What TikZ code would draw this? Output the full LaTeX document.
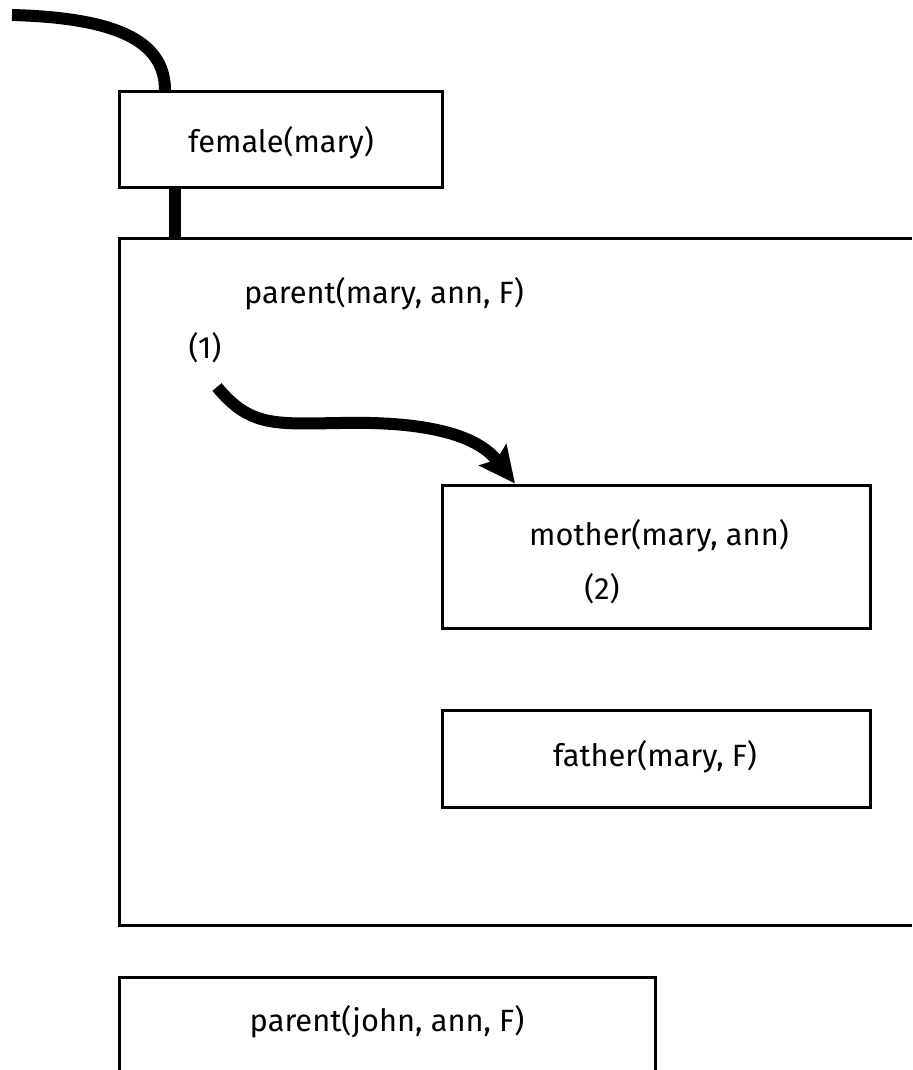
\documentclass[tikz,border=0pt]{standalone}
\usepackage{fontspec}
\setmainfont{Fira Sans}
\usepackage{tikz}
\usetikzlibrary{arrows.meta}

\begin{document}
\begin{tikzpicture}[x=0.5pt,y=-0.5pt,
		goalbox/.style={draw,line width=1.5pt,inner sep=0pt,minimum width=#1},
		lbl/.style={font=\fontsize{15.4}{18}\selectfont,inner sep=0pt},
		flow/.style={line width=6pt}]
			\useasboundingbox (0,0) rectangle (912,1070);
			% boxes
			\node [goalbox=161.5pt,minimum height=47.5pt] (female) at (280.5,139.5) {};
			\node [goalbox=214pt,minimum height=71.5pt] (mother) at (656,556.5) {};
			\node [goalbox=214pt,minimum height=48.5pt] (father) at (656,758.5) {};
			\coordinate (pm1) at (119,238);
			\coordinate (pm2) at (912,925);
			\draw [line width=1.5pt] (pm1 -| pm2) -- (pm1) -- (pm1 |- pm2) -- (pm2);
			\coordinate (pj1) at (119,977);
			\coordinate (pj2) at (655,1070);
			\draw [line width=1.5pt] (pj1 |- pj2) -- (pj1) -- (pj1 -| pj2) -- (pj2);
			% texts
			\node [lbl] (tfemale) at (281,143) {female(mary)};
			\node [lbl] (tparentm) at (384,294) {parent(mary, ann, F)};
			\node [lbl] (one) at (205,348) {(1)};
			\node [lbl] (tmother) at (659,536) {mother(mary, ann)};
			\node [lbl] (two) at (602,589) {(2)};
			\node [lbl] (tfather) at (655,757) {father(mary, F)};
			\node [lbl] (tparentj) at (387,1022) {parent(john, ann, F)};
			% flow of control
			\coordinate (entry) at (12,15);
			\coordinate (stem) at (175,238);
			\coordinate (tip) at (515,0);
			\coordinate (go) at (217,387);
			\draw [flow] (entry) .. controls (125,18) and (165,45) .. (female.north -| 165,0);
			\draw [flow] (female.south -| stem) -- (stem);
			\draw [flow,-{Stealth[length=18pt,width=17pt,inset=3pt]}] (go) .. controls (250,427) and (275,424) .. (340,423)
				.. controls (430,421) and (478,436) .. (mother.north -| tip);
		\end{tikzpicture}
\end{document}
